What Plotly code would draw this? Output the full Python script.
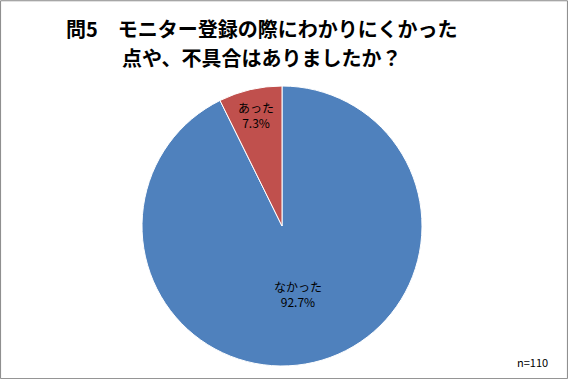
import plotly.graph_objects as go

labels = ["なかった", "あった"]
values = [92.7, 7.3]
colors = ["#4F81BD", "#C0504D"]
title_lines = ["問5\u3000モニター登録の際にわかりにくかった", "点や、不具合はありましたか？"]
note = "n=110"

W, H = 568, 379
cx, cy, r = 282, 226, 140

fig = go.Figure(go.Pie(
    labels=labels, values=values, sort=False, direction="clockwise", rotation=0,
    marker=dict(colors=colors, line=dict(color="white", width=1)),
    texttemplate="%{label}<br>%{percent:.1%}", textposition="inside",
    insidetextorientation="horizontal",
    textfont=dict(family="Noto Sans CJK JP, sans-serif", size=12, color="black"),
    showlegend=False, hoverinfo="label+percent",
    domain=dict(x=[(cx - r) / W, (cx + r) / W], y=[(H - cy - r) / H, (H - cy + r) / H]),
))

title_ann = [
    dict(text="<b>" + line + "</b>", x=261 / W, y=1 - yy / H, xref="paper", yref="paper",
         xanchor="center", yanchor="middle", showarrow=False,
         font=dict(family="Noto Sans CJK JP, sans-serif", size=20, color="black"))
    for line, yy in zip(title_lines, [29, 57])
]

fig.update_layout(
    width=W, height=H, margin=dict(l=0, r=0, t=0, b=0),
    paper_bgcolor="white", plot_bgcolor="white",
    annotations=title_ann + [
        dict(text=note, x=550 / W, y=1 - 362 / H, xref="paper", yref="paper",
             xanchor="right", yanchor="middle", showarrow=False,
             font=dict(family="Noto Sans CJK JP, sans-serif", size=11, color="black")),
    ],
    shapes=[dict(type="rect", xref="paper", yref="paper", x0=0.001, y0=0.001, x1=0.999, y1=0.998,
                 line=dict(color="#888888", width=1))],
)

fig.write_html("out.html", config={"displayModeBar": False},
               post_script="document.body.style.margin='0';document.body.style.overflow='hidden';")
